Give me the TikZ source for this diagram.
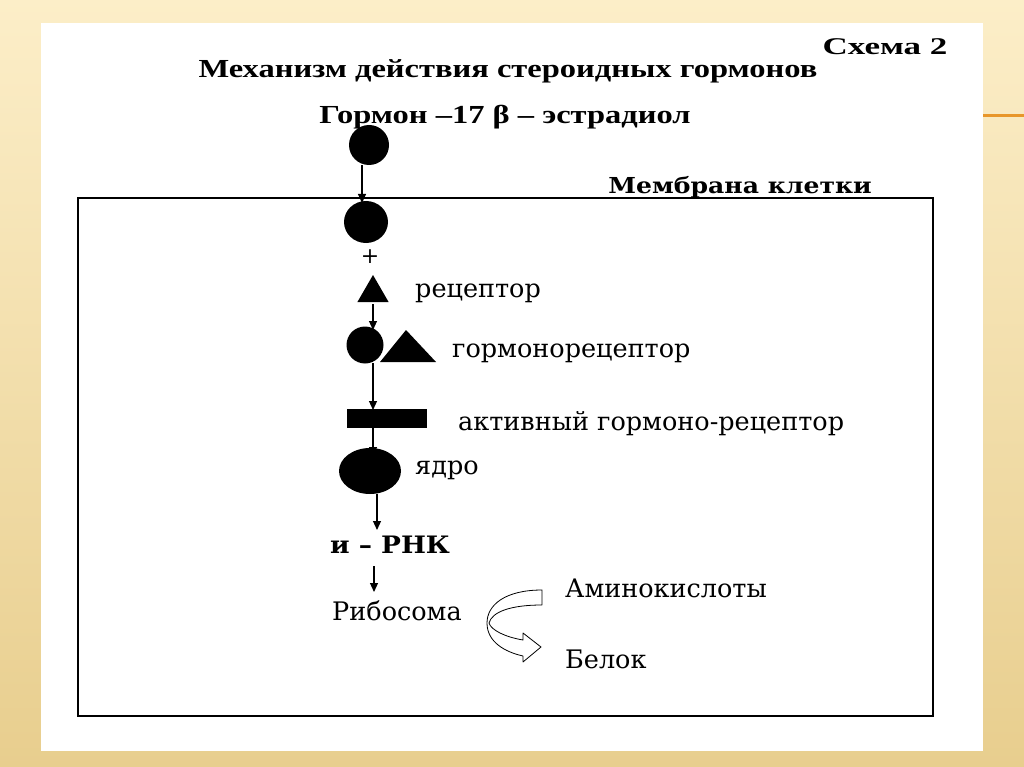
\documentclass[tikz,border=0pt]{standalone}
\usepackage{fontspec}
\setmainfont{Liberation Serif}
\newfontfamily\labfont{DejaVu Serif}
\usetikzlibrary{arrows.meta,shapes.geometric}
\definecolor{bgtop}{RGB}{252,238,200}
\definecolor{bgbot}{RGB}{232,206,142}
\definecolor{orangeline}{RGB}{232,150,42}
\newcommand{\wide}[2]{\scalebox{#1}[1]{#2}}
\tikzset{
  ttl/.style={font=\bfseries\fontsize{26}{28}\selectfont, inner sep=0pt},
  lab/.style={font=\labfont\fontsize{25.5}{27}\selectfont, inner sep=0pt},
  ball/.style={circle, fill=black, inner sep=0pt},
  arr/.style={line width=1.1pt, -{Triangle[length=9pt,width=8pt]}},
  frame/.style={line width=1.8pt},
}
\begin{document}
\begin{tikzpicture}[x=1pt,y=-1pt]
\useasboundingbox (0,0) rectangle (1024,767);
\shade[top color=bgtop, bottom color=bgbot] (0,0) rectangle (1024,767);
\fill[white] (41,23) rectangle (983,751);
\draw[orangeline, line width=3pt] (983,116) -- (1024,116);
% titles
\node[ttl, font=\bfseries\fontsize{24}{26}\selectfont] (schema) at (885,47) {\wide{1.46}{Схема 2}};
\node[ttl] (title) at (508,71) {\wide{1.25}{Механизм действия стероидных гормонов}};
\node[ttl] (hormone) at (505,117) {\wide{1.25}{Гормон –17 β – эстрадиол}};
% membrane
\draw[frame] (78,198) rectangle (933,716);
\node[ttl, font=\labfont\bfseries\fontsize{22}{24}\selectfont, anchor=base east] (memb) at (872,194) {\wide{1.14}{Мембрана клетки}};
% hormone molecules
\node[ball, minimum size=40pt] (h1) at (369,145) {};
\node[ball, minimum width=44pt, minimum height=42pt, ellipse] (h2) at (366,222) {};
\draw[arr] (362,165) -- (362,203);
\node[font=\labfont\fontsize{22}{24}\selectfont, inner sep=0pt] (plus) at (370,257) {+};
% receptor
\node[regular polygon, regular polygon sides=3, fill=black, minimum size=36pt, inner sep=0pt] (rec) at (373,293) {};
\node[lab, anchor=west] (reclab) at (415,293) {рецептор};
% hormone-receptor complex
\node[ball, minimum size=37pt] (hrc) at (365,345) {};
\fill (380,362) -- (406,330) -- (436,362) -- cycle;
\node[lab, anchor=west] (hrlab) at (452,353) {гормонорецептор};
% active
\node[rectangle, fill=black, minimum width=80pt, minimum height=19pt, inner sep=0pt] (act) at (387,418) {};
\node[lab, anchor=west] (actlab) at (458,424) {активный гормоно-рецептор};
% nucleus
\node[ellipse, fill=black, minimum width=62pt, minimum height=46pt, inner sep=0pt] (nuc) at (370,471) {};
\node[lab, anchor=west] (nuclab) at (415,470) {ядро};
% mRNA
\node[lab, font=\labfont\bfseries\fontsize{24}{26}\selectfont] (rna) at (390,545) {\wide{1.1}{и – РНК}};
\node[lab] (ribo) at (397,611) {Рибосома};
\node[lab, anchor=west] (amino) at (565,588) {Аминокислоты};
\node[lab, anchor=west] (prot) at (565,659) {Белок};
% arrows
\draw[arr] (373,304) -- (373,330);
\draw[arr] (373,363) -- (373,410);
\draw[arr] (373,428) -- (373,456);
\draw[arr] (377,494) -- (377,530);
\draw[arr] (374,566) -- (374,592);
% curved block arrow
\draw[line width=0.8pt, fill=white, line join=round]
  (542,590) .. controls (505,590) and (487,605) .. (487,623)
  .. controls (487,642) and (505,652) .. (523,656)
  -- (523,662) -- (541,647) -- (523,633) -- (523,640)
  .. controls (505,637) and (491,630) .. (489,623)
  .. controls (492,612) and (510,605) .. (542,605) -- cycle;
\end{tikzpicture}
\end{document}
